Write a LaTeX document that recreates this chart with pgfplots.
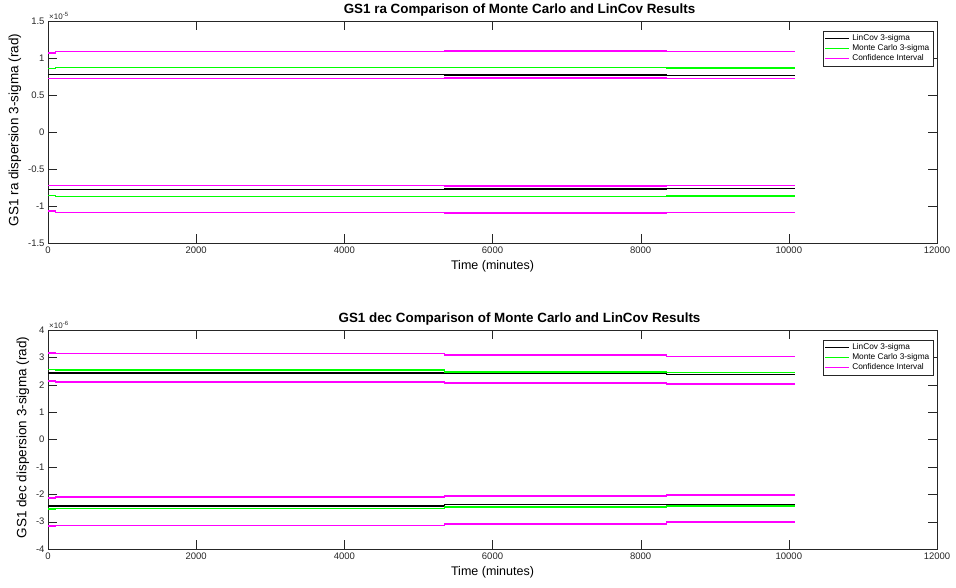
\documentclass[border=0pt]{standalone}
\usepackage{fontspec}
\setmainfont{Liberation Sans}
\usepackage{pgfplots}
\pgfplotsset{compat=1.18}
\definecolor{axgray}{gray}{0.15}
\definecolor{mcgreen}{rgb}{0,1,0}
\definecolor{cimag}{rgb}{1,0,1}
\pgfplotsset{
 myax/.style={
  scale only axis, width=889pt,
  xmin=0, xmax=12000, xtick={0,2000,...,12000}, scaled x ticks=false,
  scaled y ticks=false,
  /pgf/number format/1000 sep={}, /pgf/number format/assume math mode=true,
  tick align=inside, major tick length=9pt,
  axis line style={axgray}, tick style={axgray},
  ticklabel style={font=\fontsize{9.5}{10}\selectfont, text=axgray},
  xlabel style={font=\fontsize{12.5}{13}\selectfont},
  ylabel style={font=\fontsize{13.5}{14}\selectfont, xshift=2pt},
  title style={font=\bfseries\fontsize{13.4}{14}\selectfont, yshift=-5pt, xshift=27pt},
  xlabel={Time (minutes)},
  legend style={at={(1,1)}, anchor=north east, xshift=-4pt, yshift=-10pt,
    font=\fontsize{8.3}{9}\selectfont, draw=axgray, inner sep=1.5pt, row sep=-1.5pt},
  legend cell align=left,
  legend image code/.code={\draw[#1] (0pt,0pt) -- (24pt,0pt);},
  every axis plot/.append style={const plot},
 },
 lcs/.style={black, line width=1.1pt},
 mcs/.style={mcgreen, line width=1.6pt},
 cis/.style={cimag, line width=1.4pt},
}
\begin{document}
\begin{tikzpicture}
\useasboundingbox (0,0) rectangle (956pt,-588pt);
% ---------------- top ----------------
\begin{axis}[myax, at={(48pt,-21pt)}, anchor=north west, height=222pt,
  ymin=-1.5, ymax=1.5, ytick={-1.5,-1,...,1.5},
  title={GS1 ra Comparison of Monte Carlo and LinCov Results},
  ylabel={GS1 ra dispersion 3-sigma (rad)},
  after end axis/.code={\node[anchor=south west, inner sep=1pt, font=\fontsize{8}{9}\selectfont, text=axgray] at (rel axis cs:0,1) {×10\textsuperscript{-5}};}]
\addplot[lcs] coordinates {(0,0.780) (100,0.774) (5350,0.770) (8350,0.765) (10080,0.765)};
\addlegendentry{LinCov 3-sigma}
\addplot[mcs] coordinates {(0,0.860) (100,0.869) (5350,0.872) (8350,0.867) (10080,0.867)};
\addlegendentry{Monte Carlo 3-sigma}
\addplot[cis] coordinates {(0,1.070) (100,1.085) (5350,1.092) (8350,1.085) (10080,1.085)};
\addlegendentry{Confidence Interval}
\addplot[cis, forget plot] coordinates {(0,0.720) (100,0.726) (5350,0.730) (8350,0.722) (10080,0.722)};
\addplot[lcs, forget plot] coordinates {(0,-0.780) (100,-0.774) (5350,-0.770) (8350,-0.765) (10080,-0.765)};
\addplot[mcs, forget plot] coordinates {(0,-0.860) (100,-0.869) (5350,-0.872) (8350,-0.867) (10080,-0.867)};
\addplot[cis, forget plot] coordinates {(0,-1.070) (100,-1.085) (5350,-1.092) (8350,-1.085) (10080,-1.085)};
\addplot[cis, forget plot] coordinates {(0,-0.720) (100,-0.726) (5350,-0.730) (8350,-0.722) (10080,-0.722)};
\end{axis}
% ---------------- bottom ----------------
\begin{axis}[myax, at={(48pt,-330pt)}, anchor=north west, height=219pt,
  ymin=-4, ymax=4, ytick={-4,-3,...,4},
  title={GS1 dec Comparison of Monte Carlo and LinCov Results},
  ylabel={GS1 dec dispersion 3-sigma (rad)},
  after end axis/.code={\node[anchor=south west, inner sep=1pt, font=\fontsize{8}{9}\selectfont, text=axgray] at (rel axis cs:0,1) {×10\textsuperscript{-6}};}]
\addplot[lcs] coordinates {(0,2.43) (100,2.43) (5350,2.40) (8350,2.38) (10080,2.38)};
\addlegendentry{LinCov 3-sigma}
\addplot[mcs] coordinates {(0,2.55) (100,2.53) (5350,2.47) (8350,2.45) (10080,2.45)};
\addlegendentry{Monte Carlo 3-sigma}
\addplot[cis] coordinates {(0,3.16) (100,3.14) (5350,3.09) (8350,3.03) (10080,3.03)};
\addlegendentry{Confidence Interval}
\addplot[cis, forget plot] coordinates {(0,2.13) (100,2.105) (5350,2.07) (8350,2.03) (10080,2.03)};
\addplot[cis, forget plot] coordinates {(0,-2.13) (100,-2.10) (5350,-2.07) (8350,-2.03) (10080,-2.03)};
\addplot[lcs, forget plot] coordinates {(0,-2.43) (100,-2.43) (5350,-2.39) (8350,-2.38) (10080,-2.38)};
\addplot[mcs, forget plot] coordinates {(0,-2.53) (100,-2.52) (5350,-2.46) (8350,-2.44) (10080,-2.44)};
\addplot[cis, forget plot] coordinates {(0,-3.16) (100,-3.14) (5350,-3.08) (8350,-3.02) (10080,-3.02)};
\end{axis}
\end{tikzpicture}
\end{document}
